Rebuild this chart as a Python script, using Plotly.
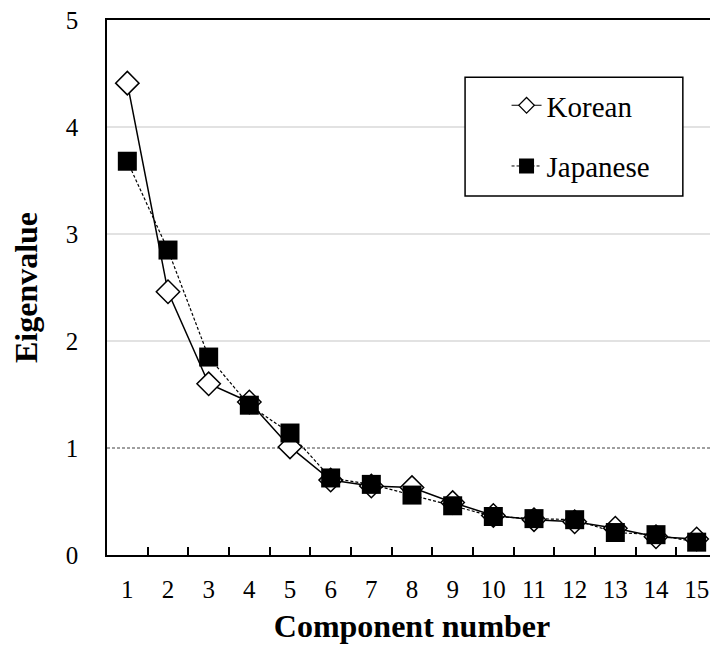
import plotly.graph_objects as go

components = [str(i) for i in range(1, 16)]
korean = [4.41, 2.46, 1.60, 1.43, 1.01, 0.70, 0.645, 0.63, 0.49, 0.37, 0.33, 0.31, 0.25, 0.17, 0.15]
japanese = [3.68, 2.85, 1.85, 1.40, 1.14, 0.72, 0.66, 0.56, 0.46, 0.36, 0.34, 0.33, 0.21, 0.19, 0.12]
y_ticks = [0, 1, 2, 3, 4, 5]
grid_values = [2, 3, 4]
reference_line = 1

FONT = "Liberation Serif"

k_line = dict(color="black", width=1.5)
j_line = dict(color="black", width=1.2, dash="3px,2px")

fig = go.Figure()
fig.add_trace(go.Scatter(
    x=components, y=korean, name="Korean", mode="lines+markers",
    showlegend=False, line=k_line,
    marker=dict(symbol="diamond", size=18, color="white", line=dict(color="black", width=1.5)),
))
fig.add_trace(go.Scatter(
    x=components, y=japanese, name="Japanese", mode="lines+markers",
    showlegend=False, line=j_line,
    marker=dict(symbol="square", size=19, color="black", line=dict(color="black", width=0)),
))
# legend entries (smaller symbols, as in the original legend)
fig.add_trace(go.Scatter(
    x=[None], y=[None], name="Korean", mode="lines+markers", legendgroup="k",
    line=dict(color="black", width=1.2),
    marker=dict(symbol="diamond", size=12, color="white", line=dict(color="black", width=1.2)),
))
fig.add_trace(go.Scatter(
    x=[None], y=[None], name="Japanese", mode="lines+markers", legendgroup="j",
    line=dict(color="black", width=1.0, dash="3px,2px"),
    marker=dict(symbol="square", size=15, color="black", line=dict(color="black", width=0)),
))

shapes = []
for g in grid_values:
    shapes.append(dict(type="line", xref="paper", yref="y", x0=0, x1=1, y0=g, y1=g,
                       line=dict(color="#d9d9d9", width=1.5), layer="below"))
shapes.append(dict(type="line", xref="paper", yref="y", x0=0, x1=1, y0=reference_line, y1=reference_line,
                   line=dict(color="#404040", width=1, dash="3px,2px"), layer="below"))
# legend frame
shapes.append(dict(type="rect", xref="paper", yref="paper", x0=0.587, x1=0.944, y0=0.671, y1=0.893,
                   line=dict(color="black", width=1.5), fillcolor="white", layer="above"))

fig.update_layout(
    width=710, height=645,
    margin=dict(l=99, r=1, t=12, b=98),
    paper_bgcolor="white", plot_bgcolor="white",
    font=dict(family=FONT, color="black", size=25),
    shapes=shapes,
    showlegend=True,
    legend=dict(x=0.655, y=0.888, xanchor="left", yanchor="top",
                bgcolor="rgba(0,0,0,0)", borderwidth=0,
                font=dict(family=FONT, size=29, color="black"),
                tracegroupgap=20, itemsizing="trace"),
    xaxis=dict(
        type="category", categoryorder="array", categoryarray=components,
        range=[-0.5, len(components) - 0.5], automargin=False,
        tickson="boundaries", ticks="inside", ticklen=8, tickwidth=1.5, tickcolor="black",
        showline=True, linecolor="black", linewidth=1.5, mirror=True,
        showgrid=False, zeroline=False,
        tickfont=dict(family=FONT, size=25),
        ticklabelstandoff=11,
        title=dict(text="<b>Component number</b>", font=dict(family=FONT, size=32), standoff=13),
    ),
    yaxis=dict(
        range=[0, 5], tickvals=y_ticks, ticktext=[str(v) for v in y_ticks],
        automargin=False, ticklabeloverflow="allow",
        ticks="", showline=True, linecolor="black", linewidth=1.5, mirror=True,
        showgrid=False, zeroline=False,
        tickfont=dict(family=FONT, size=25),
        ticklabelstandoff=22,
        title=dict(text="<b>Eigenvalue</b>", font=dict(family=FONT, size=32), standoff=20),
    ),
)

fig.write_html("out.html")
